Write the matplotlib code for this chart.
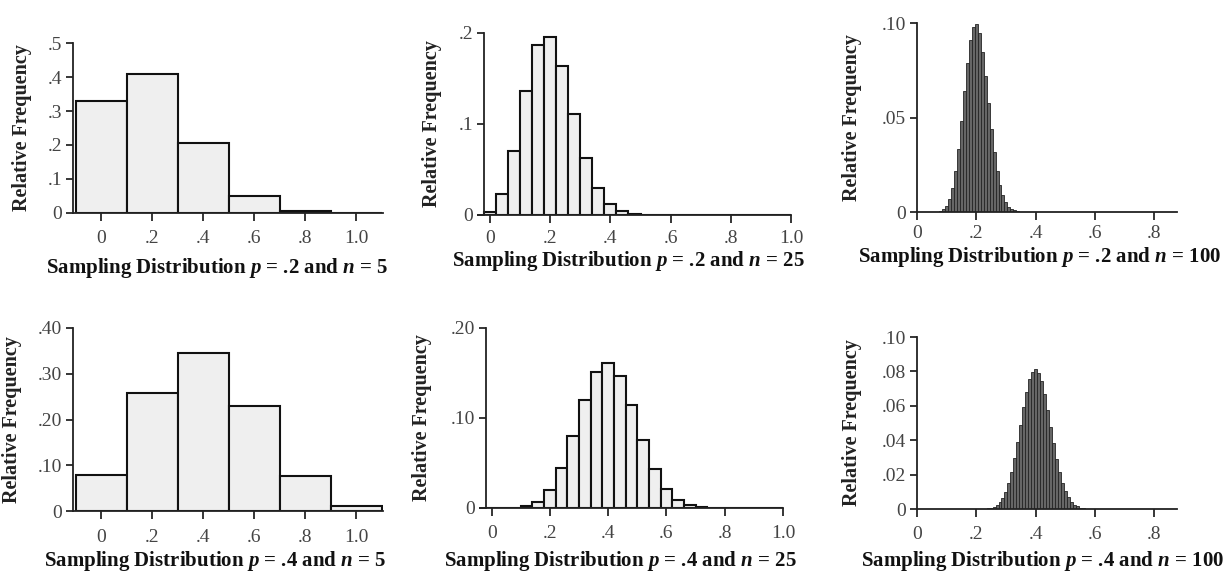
import numpy as np
import matplotlib.pyplot as plt

plt.rcParams['font.family'] = 'Liberation Serif'
plt.rcParams['mathtext.fontset'] = 'custom'
plt.rcParams['mathtext.it'] = 'Liberation Serif:italic:bold'
plt.rcParams['mathtext.rm'] = 'Liberation Serif:bold'

# relative frequencies (index = number of successes k)
freq_p2_n5 = [0.328, 0.410, 0.205, 0.051, 0.006, 0.001]
freq_p4_n5 = [0.078, 0.259, 0.346, 0.230, 0.077, 0.010]

freq_p2_n25 = [0.0038, 0.0236, 0.0708, 0.1358, 0.1867, 0.1960, 0.1633, 0.1108,
               0.0623, 0.0294, 0.0118, 0.0040, 0.0012, 0.0003, 0.0001, 0, 0, 0,
               0, 0, 0, 0, 0, 0, 0, 0]
freq_p4_n25 = [0, 0.0001, 0.0004, 0.0019, 0.0071, 0.0199, 0.0442, 0.0800,
               0.1200, 0.1511, 0.1612, 0.1465, 0.1140, 0.0760, 0.0434, 0.0212,
               0.0088, 0.0031, 0.0009, 0.0002, 0.0001, 0, 0, 0, 0, 0]

# n = 100: only the visible part, first k given separately
k0_p2_n100 = 5
freq_p2_n100 = [0.00001, 0.00006, 0.0002, 0.0006, 0.0015, 0.0034, 0.0069,
                0.0128, 0.0216, 0.0335, 0.0481, 0.0638, 0.0789, 0.0909, 0.0981,
                0.0993, 0.0946, 0.0849, 0.0720, 0.0577, 0.0439, 0.0316, 0.0217,
                0.0141, 0.0088, 0.0052, 0.0029, 0.0016, 0.0008, 0.0004, 0.0002,
                0.0001, 0.00003, 0.00001]
k0_p4_n100 = 21
freq_p4_n100 = [0.00003, 0.00006, 0.0001, 0.0003, 0.0006, 0.0012, 0.0022,
                0.0038, 0.0063, 0.0100, 0.0151, 0.0217, 0.0298, 0.0391, 0.0491,
                0.0591, 0.0682, 0.0754, 0.0799, 0.0812, 0.0792, 0.0742, 0.0667,
                0.0576, 0.0478, 0.0381, 0.0292, 0.0215, 0.0152, 0.0103, 0.0068,
                0.0042, 0.0026, 0.0015, 0.0008, 0.0004, 0.0002, 0.0001, 0.00005,
                0.00002]

xt_5 = [0, 0.2, 0.4, 0.6, 0.8, 1.0]
xt_100 = [0, 0.2, 0.4, 0.6, 0.8]
xl_5 = ['0', '.2', '.4', '.6', '.8', '1.0']
xl_100 = ['0', '.2', '.4', '.6', '.8']

yt_1 = [0, 0.1, 0.2, 0.3, 0.4, 0.5]
yl_1 = ['0', '.1', '.2', '.3', '.4', '.5']
yt_2 = [0, 0.1, 0.2]
yl_2 = ['0', '.1', '.2']
yt_3 = [0, 0.05, 0.10]
yl_3 = ['0', '.05', '.10']
yt_4 = [0, 0.1, 0.2, 0.3, 0.4]
yl_4 = ['0', '.10', '.20', '.30', '.40']
yt_5 = [0, 0.1, 0.2]
yl_5 = ['0', '.10', '.20']
yt_6 = [0, 0.02, 0.04, 0.06, 0.08, 0.10]
yl_6 = ['0', '.02', '.04', '.06', '.08', '.10']

W, H = 1227, 574
fig = plt.figure(figsize=(W / 100, H / 100), dpi=100)


def panel(box, n, freqs, k0, xlim, spine_x, xt, xl, yt, yl, title,
          ylab_x, xlab_cx, xlab_dy, xpad=7, dark=False):
    l, r, t, b = box
    ax = fig.add_axes([l / W, 1 - b / H, (r - l) / W, (b - t) / H])
    k = np.arange(k0, k0 + len(freqs))
    if dark:
        ax.bar(k / n, freqs, width=1 / n, color='#666666', edgecolor='#242424', linewidth=0.6)
    else:
        ax.bar(k / n, freqs, width=1 / n, color='#efefef', edgecolor='#111111', linewidth=1.5)
    ax.set_xlim(*xlim)
    ax.set_ylim(0, yt[-1])
    ax.spines[['top', 'right']].set_visible(False)
    ax.spines['left'].set_position(('data', spine_x))
    ax.spines['left'].set_bounds(0, yt[-1])
    for s in ['left', 'bottom']:
        ax.spines[s].set_linewidth(1.3)
        ax.spines[s].set_color('#222222')
    ax.set_xticks(xt, xl)
    ax.set_yticks(yt, yl)
    ax.tick_params(axis='x', direction='out', length=5.5, width=1.1, pad=xpad,
                   labelsize=14, labelcolor='#444444')
    ax.tick_params(axis='y', direction='out', length=5, width=1.1, pad=3,
                   labelsize=14, labelcolor='#444444')
    ax.set_ylabel('Relative Frequency', fontsize=14.5, fontweight='bold', color='#222222')
    ax.yaxis.set_label_coords((ylab_x - l) / (r - l), 0.5)
    ax.yaxis.label.set_va('center')
    ax.set_xlabel(title, fontsize=15, fontweight='bold', color='#111111')
    ax.xaxis.set_label_coords((xlab_cx - l) / (r - l), -xlab_dy / (b - t))
    ax.xaxis.label.set_va('center')
    ax.set_zorder(1)
    return ax


panel((73, 383, 43, 213), 5, freq_p2_n5, 0, (-0.11, 1.105), -0.11, xt_5, xl_5, yt_1, yl_1,
      r'Sampling Distribution $p$ = .2 and $n$ = 5', 22, 217, 55)
panel((478, 791, 33, 215), 25, freq_p2_n25, 0, (-0.04, 1.0), -0.02, xt_5, xl_5, yt_2, yl_2,
      r'Sampling Distribution $p$ = .2 and $n$ = 25', 432, 628, 46, xpad=5)
panel((917, 1177, 23, 212), 100, freq_p2_n100, k0_p2_n100, (0, 0.877), 0, xt_100, xl_100, yt_3, yl_3,
      r'Sampling Distribution $p$ = .2 and $n$ = 100', 852, 1040, 45, xpad=4, dark=True)
panel((73, 383, 328, 511), 5, freq_p4_n5, 0, (-0.11, 1.105), -0.11, xt_5, xl_5, yt_4, yl_4,
      r'Sampling Distribution $p$ = .4 and $n$ = 5', 12, 215, 50, xpad=7.5)
panel((480, 783, 328, 508), 25, freq_p4_n25, 0, (-0.04, 1.0), -0.02, xt_5, xl_5, yt_5, yl_5,
      r'Sampling Distribution $p$ = .4 and $n$ = 25', 422, 620, 53)
panel((917, 1177, 337, 509), 100, freq_p4_n100, k0_p4_n100, (0, 0.877), 0, xt_100, xl_100, yt_6, yl_6,
      r'Sampling Distribution $p$ = .4 and $n$ = 100', 852, 1043, 52, dark=True)

fig.savefig('out.png', dpi=100, facecolor='white')
